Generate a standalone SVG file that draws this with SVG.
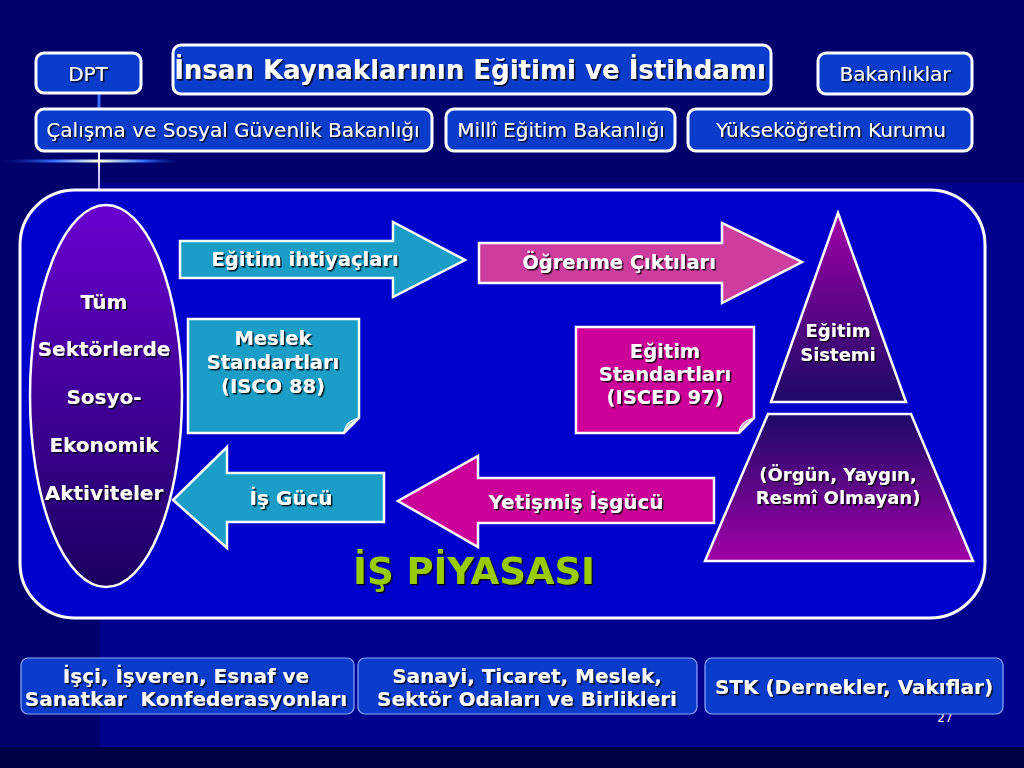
<svg xmlns="http://www.w3.org/2000/svg" width="1024" height="768" viewBox="0 0 1024 768">
<defs>
<style>
.t{font-family:"DejaVu Sans","Liberation Sans",sans-serif;fill:#ffffff;text-anchor:middle;dominant-baseline:central;filter:url(#sh)}
.b{font-weight:bold}
.top{fill:#0a3ccc;stroke:#ffffff;stroke-width:3}
.bot{fill:#0a3ccc;stroke:#8fa8ff;stroke-width:1.2}
.wl{stroke:#ffffff;stroke-width:2.5;stroke-linejoin:miter}
</style>
<filter id="sh" x="-10%" y="-30%" width="120%" height="160%">
<feDropShadow dx="1.5" dy="1.5" stdDeviation="0.6" flood-color="#000000" flood-opacity="0.85"/>
</filter>
<linearGradient id="gEl" x1="0" y1="0" x2="0" y2="1">
<stop offset="0" stop-color="#6a00d0"/>
<stop offset="1" stop-color="#1a0060"/>
</linearGradient>
<linearGradient id="gTri" x1="0" y1="0" x2="0" y2="1">
<stop offset="0" stop-color="#a000a8"/>
<stop offset="1" stop-color="#1c0a66"/>
</linearGradient>
<linearGradient id="gTrap" x1="0" y1="0" x2="0" y2="1">
<stop offset="0" stop-color="#1c0a66"/>
<stop offset="1" stop-color="#a000a8"/>
</linearGradient>
<linearGradient id="gH" x1="0" y1="0" x2="180" y2="0" gradientUnits="userSpaceOnUse">
<stop offset="0" stop-color="#0a2aa0" stop-opacity="0"/>
<stop offset="0.3" stop-color="#3070ff"/>
<stop offset="0.55" stop-color="#ffffe0"/>
<stop offset="0.8" stop-color="#3070ff"/>
<stop offset="1" stop-color="#0a2aa0" stop-opacity="0"/>
</linearGradient>
<linearGradient id="gV" x1="0" y1="151" x2="0" y2="190" gradientUnits="userSpaceOnUse">
<stop offset="0" stop-color="#ffffff"/>
<stop offset="1" stop-color="#b8a8ff"/>
</linearGradient>
</defs>

<!-- background -->
<rect x="0" y="0" width="1024" height="768" fill="#00006c"/>
<rect x="100" y="183" width="924" height="564" fill="#00008e"/>
<rect x="0" y="747" width="1024" height="21" fill="#000046"/>

<!-- connectors / decoration lines -->
<g id="connectors">
<line x1="99" y1="93" x2="99" y2="109" stroke="#3a6cff" stroke-width="3"/>
<line x1="99" y1="151" x2="99" y2="190" stroke="url(#gV)" stroke-width="2"/>
<line x1="0" y1="161" x2="180" y2="161" stroke="url(#gH)" stroke-width="3"/>
</g>

<!-- top row -->
<g id="dpt"><rect class="top" x="36" y="53" width="105" height="40" rx="8"/><text class="t" x="88" y="74" font-size="20">DPT</text></g>
<g id="title"><rect class="top" x="173" y="45" width="598" height="49" rx="8"/><text class="t b" x="470" y="70" font-size="26">İnsan Kaynaklarının Eğitimi ve İstihdamı</text></g>
<g id="bakanliklar"><rect class="top" x="818" y="53" width="154" height="41" rx="8"/><text class="t" x="895" y="74" font-size="20">Bakanlıklar</text></g>
<g id="calisma"><rect class="top" x="36" y="109" width="396" height="42" rx="8"/><text class="t" x="233" y="130" font-size="20">Çalışma ve Sosyal Güvenlik Bakanlığı</text></g>
<g id="milli"><rect class="top" x="446" y="109" width="229" height="42" rx="8"/><text class="t" x="561" y="130" font-size="20">Millî Eğitim Bakanlığı</text></g>
<g id="yok"><rect class="top" x="688" y="109" width="284" height="42" rx="8"/><text class="t" x="831" y="130" font-size="20">Yükseköğretim Kurumu</text></g>

<!-- main frame -->
<g id="is-piyasasi">
<rect x="20" y="190" width="965" height="428" rx="55" fill="#0000cc" stroke="#ffffff" stroke-width="3"/>
<text class="t b" x="474" y="571" font-size="37" style="fill:#99cc00">İŞ PİYASASI</text>
</g>

<!-- ellipse -->
<g id="sektorler">
<ellipse cx="106" cy="396" rx="76" ry="191" fill="url(#gEl)" stroke="#ffffff" stroke-width="2.5"/>
<text class="t b" x="104" y="302" font-size="20">Tüm</text>
<text class="t b" x="104" y="349" font-size="20">Sektörlerde</text>
<text class="t b" x="104" y="397" font-size="20">Sosyo-</text>
<text class="t b" x="104" y="445" font-size="20">Ekonomik</text>
<text class="t b" x="104" y="493" font-size="20">Aktiviteler</text>
</g>

<!-- arrows -->
<g id="egitim-ihtiyaclari">
<path class="wl" d="M180,241 H393 V222 L465,260 L393,297 V278 H180 Z" fill="#1a9ec8"/>
<text class="t b" x="305" y="259" font-size="19.5">Eğitim ihtiyaçları</text>
</g>
<g id="ogrenme-ciktilari">
<path class="wl" d="M479,243 H722 V223 L802,262 L722,303 V283 H479 Z" fill="#cc3d9e" stroke-width="1.5"/>
<text class="t b" x="619" y="262" font-size="19.5">Öğrenme Çıktıları</text>
</g>
<g id="is-gucu">
<path class="wl" d="M384,473 H227 V447 L173,500 L227,548 V522 H384 Z" fill="#1a9ec8"/>
<text class="t b" x="291" y="498" font-size="20">İş Gücü</text>
</g>
<g id="yetismis-isgucu">
<path class="wl" d="M714,478 H478 V456 L398,501 L478,547 V523 H714 Z" fill="#cc0099"/>
<text class="t b" x="576" y="502" font-size="20">Yetişmiş İşgücü</text>
</g>

<!-- standards boxes -->
<g id="meslek-standartlari">
<path class="wl" d="M188,319 H359 V418 L344,433 H188 Z" fill="#1a9ec8"/>
<path d="M344,433 Q345,421 359,418 Q350,424 344,433 Z" fill="#a8d8ee" stroke="#ffffff" stroke-width="1.2"/>
<text class="t b" x="273" y="338" font-size="19.5">Meslek</text>
<text class="t b" x="273" y="362" font-size="19.5">Standartları</text>
<text class="t b" x="273" y="386" font-size="19.5">(ISCO 88)</text>
</g>
<g id="egitim-standartlari">
<path class="wl" d="M576,327 H754 V418 L739,433 H576 Z" fill="#cc0099"/>
<path d="M739,433 Q740,421 754,418 Q745,424 739,433 Z" fill="#f0a8dc" stroke="#ffffff" stroke-width="1.2"/>
<text class="t b" x="665" y="351" font-size="19.5">Eğitim</text>
<text class="t b" x="665" y="374" font-size="19.5">Standartları</text>
<text class="t b" x="665" y="397" font-size="19.5">(ISCED 97)</text>
</g>

<!-- pyramid -->
<g id="egitim-sistemi">
<path class="wl" d="M838,213 L906,402 H771 Z" fill="url(#gTri)"/>
<text class="t b" x="838" y="330" font-size="18">Eğitim</text>
<text class="t b" x="838" y="354" font-size="18">Sistemi</text>
</g>
<g id="orgun-yaygin">
<path class="wl" d="M768,414 H911 L973,561 H705 Z" fill="url(#gTrap)"/>
<text class="t b" x="838" y="474" font-size="18">(Örgün, Yaygın,</text>
<text class="t b" x="838" y="497" font-size="18">Resmî Olmayan)</text>
</g>

<!-- page number (mostly hidden) -->
<text x="945" y="722" font-family="DejaVu Sans, sans-serif" font-size="12" fill="#ffffff" text-anchor="middle">27</text>

<!-- bottom boxes -->
<g id="konfederasyonlar">
<rect class="bot" x="21" y="658" width="333" height="56" rx="7"/>
<text class="t b" x="186" y="676" font-size="20">İşçi, İşveren, Esnaf ve</text>
<text class="t b" x="186" y="699" font-size="20" xml:space="preserve">Sanatkar  Konfederasyonları</text>
</g>
<g id="odalar">
<rect class="bot" x="358" y="658" width="339" height="56" rx="7"/>
<text class="t b" x="527" y="676" font-size="20">Sanayi, Ticaret, Meslek,</text>
<text class="t b" x="527" y="699" font-size="20">Sektör Odaları ve Birlikleri</text>
</g>
<g id="stk">
<rect class="bot" x="705" y="658" width="298" height="56" rx="7"/>
<text class="t b" x="854" y="687" font-size="20">STK (Dernekler, Vakıflar)</text>
</g>
</svg>
